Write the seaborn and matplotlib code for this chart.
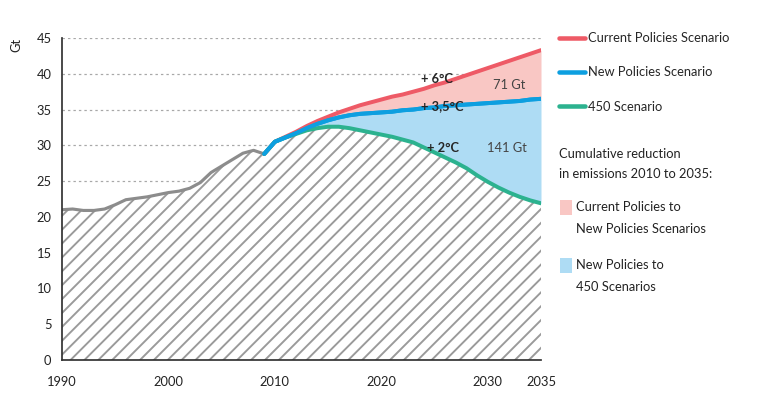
from matplotlib import pyplot as plt
from matplotlib.lines import Line2D
from matplotlib.patches import Rectangle
import matplotlib.ticker as mticker
import pandas as pd
import seaborn as sns

# historic emissions (Gt)
hist_years = list(range(1990, 2010))
hist_values = [21.0, 21.1, 20.9, 20.9, 21.1, 21.7, 22.4, 22.6, 22.8, 23.1,
               23.4, 23.6, 24.0, 24.8, 26.2, 27.1, 28.0, 28.9, 29.3, 28.8]

# scenarios 2009-2035
proj_years = list(range(2009, 2036))
current_policies = [28.8, 30.5, 31.2, 31.9, 32.7, 33.4, 34.0, 34.6, 35.1, 35.6,
                    36.0, 36.4, 36.8, 37.1, 37.5, 37.9, 38.4, 38.8, 39.3, 39.8,
                    40.3, 40.8, 41.3, 41.8, 42.3, 42.8, 43.3]
new_policies = [28.8, 30.5, 31.1, 31.7, 32.4, 33.0, 33.5, 33.9, 34.2, 34.4,
                34.5, 34.6, 34.7, 34.9, 35.0, 35.2, 35.3, 35.5, 35.6, 35.7,
                35.8, 35.9, 36.0, 36.1, 36.2, 36.4, 36.5]
scen_450 = [28.8, 30.5, 31.1, 31.6, 32.1, 32.4, 32.6, 32.6, 32.4, 32.1,
            31.8, 31.5, 31.2, 30.8, 30.4, 29.7, 29.0, 28.3, 27.6, 26.8,
            25.8, 24.9, 24.1, 23.4, 22.8, 22.3, 21.9]

scenario_names = ["Current Policies Scenario", "New Policies Scenario", "450 Scenario"]
scenario_colors = ["#ee5a66", "#0d9fe0", "#2cb28f"]
fill_labels = ["Current Policies to\nNew Policies Scenarios", "New Policies to\n450 Scenarios"]
fill_colors = ["#f9c7c4", "#aedcf4"]
tick_labels_shown = [1990, 2000, 2010, 2020, 2030, 2035]

sns.set_style("white")
plt.rcParams['font.family'] = ['Lato', 'DejaVu Sans']
plt.rcParams['hatch.linewidth'] = 1.1
plt.rcParams['hatch.color'] = "#9a9a9a"

FS = 7.4

df = pd.DataFrame({
    "year": proj_years * 3,
    "Gt": current_policies + new_policies + scen_450,
    "scenario": [s for s in scenario_names for _ in proj_years],
})

fig = plt.figure(figsize=(778 / 125, 399 / 125), dpi=125)
ax = fig.add_axes([62 / 778, 1 - 360 / 399, (541 - 62) / 778, (360 - 38) / 399])

# hatched area under history + 450 scenario
base_years = hist_years + proj_years[1:]
base_values = hist_values + scen_450[1:]
ax.fill_between(base_years, 0, base_values, facecolor="white", edgecolor="#9a9a9a",
                hatch="///", linewidth=0, zorder=1)
ax.fill_between(proj_years, new_policies, current_policies, color=fill_colors[0], linewidth=0, zorder=1)
ax.fill_between(proj_years, scen_450, new_policies, color=fill_colors[1], linewidth=0, zorder=1)

sns.lineplot(x=hist_years, y=hist_values, color="#8c8c8c", linewidth=1.8, ax=ax, zorder=3)
sns.lineplot(data=df, x="year", y="Gt", hue="scenario", palette=scenario_colors,
             hue_order=scenario_names, linewidth=2.3, ax=ax, legend=False, zorder=4)
# blue on top
sns.lineplot(x=proj_years, y=new_policies, color=scenario_colors[1], linewidth=2.3, ax=ax, zorder=5)

ax.set_xlim(1990, 2035)
ax.set_ylim(0, 45)
ax.set_xlabel("")
ax.set_ylabel("")
ax.set_yticks(range(0, 50, 5))
ax.set_xticks(range(1990, 2040, 5))
ax.xaxis.set_major_formatter(mticker.FuncFormatter(
    lambda v, p: str(int(v)) if int(v) in tick_labels_shown else ""))
ax.grid(axis="y", linestyle=(0, (2, 2.5)), color="#a8a8a8", linewidth=0.7)
ax.set_axisbelow(True)
for s in ["top", "right"]:
    ax.spines[s].set_visible(False)
for s in ["left", "bottom"]:
    ax.spines[s].set_color("#333333")
    ax.spines[s].set_linewidth(1.0)
    ax.spines[s].set_zorder(6)
ax.tick_params(axis="both", direction="out", length=4, width=1.0, color="#333333",
               labelsize=FS, labelcolor="#222222", pad=2)
ax.tick_params(axis="x", length=5, pad=4)

fig.text(16 / 778, 1 - 45 / 399, "Gt", rotation=90, ha="center", va="center",
         fontsize=FS, color="#222222")

# annotations
ann = dict(fontsize=FS, ha="center", va="center", zorder=10)
ax.text(2025.2, 39.3, "+ 6°C", fontweight="bold", **ann)
ax.text(2025.7, 35.5, "+ 3,5°C", fontweight="bold", **ann)
ax.text(2025.8, 29.6, "+ 2°C", fontweight="bold", **ann)
ax.text(2032.0, 38.4, "71 Gt", color="#444444", **ann)
ax.text(2031.8, 29.6, "141 Gt", color="#444444", **ann)

# legend for lines
handles = [Line2D([0], [0], color=c, linewidth=2.6) for c in scenario_colors]
fig.legend(handles, scenario_names, loc="upper left", bbox_to_anchor=(559 / 778, 1 - 32 / 399),
           frameon=False, fontsize=FS, handlelength=2.0, handletextpad=0.25,
           labelspacing=1.75, borderaxespad=0, borderpad=0)

fig.text(559 / 778, 1 - 164 / 399, "Cumulative reduction\nin emissions 2010 to 2035:",
         fontsize=FS, color="#222222", ha="left", va="center", linespacing=1.85)
for i, (lab, col) in enumerate(zip(fill_labels, fill_colors)):
    ytop = 200 + i * 58
    fig.patches.append(Rectangle((560 / 778, 1 - (ytop + 15) / 399), 12 / 778, 15 / 399,
                                 transform=fig.transFigure, facecolor=col, edgecolor="none"))
    fig.text(576 / 778, 1 - (ytop + 18) / 399, lab, fontsize=FS, color="#222222",
             ha="left", va="center", linespacing=1.95)

fig.savefig("out.png", dpi=125)
